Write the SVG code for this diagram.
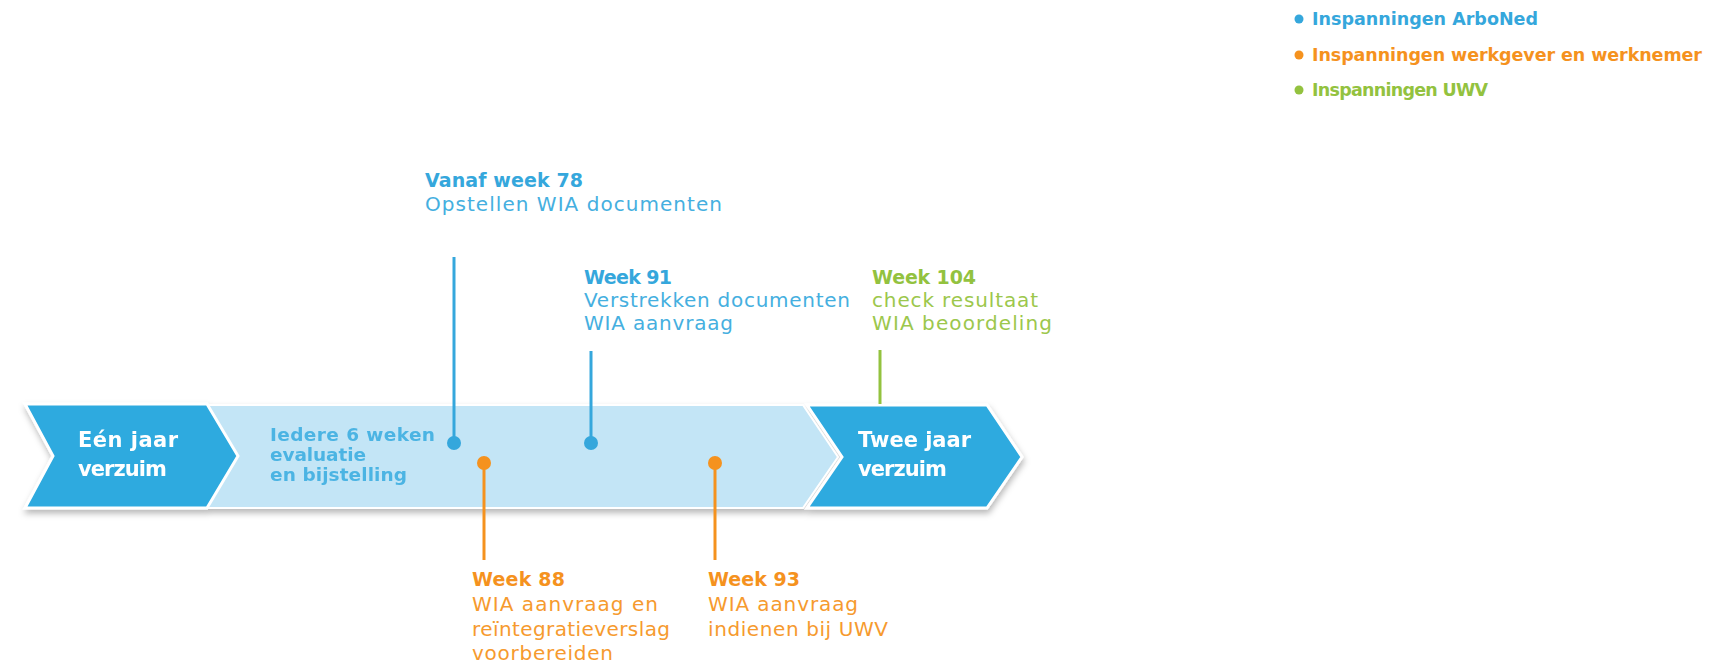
<svg xmlns="http://www.w3.org/2000/svg" width="1719" height="664" viewBox="0 0 1719 664">
  <defs>
    <style>
      text { font-family: "DejaVu Sans", "Liberation Sans", sans-serif; }
      .b { font-weight: bold; font-size: 19px; }
      .r { font-weight: normal; font-size: 20px; }
      .blue { fill: #35a7dc; }
      .orange { fill: #f5921e; }
      .green { fill: #93c23f; }
      .r.blue { fill: #45afe0; }
      .r.orange { fill: #f69a2e; }
      .r.green { fill: #9cc74c; }
      .legend { font-weight: bold; font-size: 17.5px; }
      .chev { fill: #2eaadf; stroke: #ffffff; stroke-width: 3; stroke-linejoin: miter; }
      .bar { fill: #c3e5f6; stroke: #ffffff; stroke-width: 2; }
      .white { fill: #ffffff; font-weight: bold; font-size: 21px; }
      .inner { fill: #4cb4e3; font-weight: bold; font-size: 18.5px; }
      .stem { stroke-width: 3; fill: none; }
    </style>
    <filter id="shadow" x="-5%" y="-20%" width="110%" height="150%">
      <feDropShadow dx="1" dy="4" stdDeviation="3" flood-color="#000000" flood-opacity="0.28"/>
    </filter>
  </defs>

  <rect width="1719" height="664" fill="#ffffff"/>

  <!-- legend -->
  <g id="legend">
    <circle cx="1299" cy="19" r="4.5" fill="#35a7dc"/>
    <text class="legend blue" x="1312" y="25" textLength="226" lengthAdjust="spacing">Inspanningen ArboNed</text>
    <circle cx="1299" cy="55" r="4.5" fill="#f5921e"/>
    <text class="legend orange" x="1312" y="61" textLength="390" lengthAdjust="spacing">Inspanningen werkgever en werknemer</text>
    <circle cx="1299" cy="90" r="4.5" fill="#93c23f"/>
    <text class="legend green" x="1312" y="96" textLength="176" lengthAdjust="spacing">Inspanningen UWV</text>
  </g>

  <!-- timeline band -->
  <g filter="url(#shadow)">
    <g id="bar">
      <polygon class="bar" points="200,405 803,405 838,457 803,508 200,508"/>
      <text class="inner" x="270" y="441" textLength="165" lengthAdjust="spacing">Iedere 6 weken</text>
      <text class="inner" x="270" y="461" textLength="96" lengthAdjust="spacing">evaluatie</text>
      <text class="inner" x="270" y="481" textLength="137" lengthAdjust="spacing">en bijstelling</text>
    </g>
    <g id="year-one">
      <polygon class="chev" points="25,404 207,404 238,456 207,508 25,508 53,456"/>
      <text class="white" x="78" y="447" textLength="100" lengthAdjust="spacing">Eén jaar</text>
      <text class="white" x="78" y="476" textLength="89" lengthAdjust="spacing">verzuim</text>
    </g>
    <g id="year-two">
      <polygon class="chev" points="807,405 987,405 1022,457 987,508 807,508 842,457"/>
      <text class="white" x="858" y="447" textLength="113" lengthAdjust="spacing">Twee jaar</text>
      <text class="white" x="858" y="476" textLength="89" lengthAdjust="spacing">verzuim</text>
    </g>
  </g>

  <!-- stems and markers -->
  <g id="connectors">
    <line class="stem" x1="454" y1="257" x2="454" y2="443" stroke="#35a7dc"/>
    <circle cx="454" cy="443" r="7" fill="#35a7dc"/>
    <line class="stem" x1="591" y1="351" x2="591" y2="443" stroke="#35a7dc"/>
    <circle cx="591" cy="443" r="7" fill="#35a7dc"/>
    <line class="stem" x1="880" y1="350" x2="880" y2="404" stroke="#93c23f"/>
    <line class="stem" x1="484" y1="463" x2="484" y2="560" stroke="#f5921e"/>
    <circle cx="484" cy="463" r="7" fill="#f5921e"/>
    <line class="stem" x1="715" y1="463" x2="715" y2="560" stroke="#f5921e"/>
    <circle cx="715" cy="463" r="7" fill="#f5921e"/>
  </g>

  <!-- milestone labels -->
  <g id="week-78">
    <text class="b blue" x="425" y="187" textLength="158" lengthAdjust="spacing">Vanaf week 78</text>
    <text class="r blue" x="425" y="211" textLength="297" lengthAdjust="spacing">Opstellen WIA documenten</text>
  </g>
  <g id="week-91">
    <text class="b blue" x="584" y="284" textLength="88" lengthAdjust="spacing">Week 91</text>
    <text class="r blue" x="584" y="307" textLength="266" lengthAdjust="spacing">Verstrekken documenten</text>
    <text class="r blue" x="584" y="330" textLength="149" lengthAdjust="spacing">WIA aanvraag</text>
  </g>
  <g id="week-104">
    <text class="b green" x="872" y="284" textLength="104" lengthAdjust="spacing">Week 104</text>
    <text class="r green" x="872" y="307" textLength="166" lengthAdjust="spacing">check resultaat</text>
    <text class="r green" x="872" y="330" textLength="180" lengthAdjust="spacing">WIA beoordeling</text>
  </g>
  <g id="week-88">
    <text class="b orange" x="472" y="586" textLength="93" lengthAdjust="spacing">Week 88</text>
    <text class="r orange" x="472" y="611" textLength="186" lengthAdjust="spacing">WIA aanvraag en</text>
    <text class="r orange" x="472" y="636" textLength="198" lengthAdjust="spacing">reïntegratieverslag</text>
    <text class="r orange" x="472" y="660" textLength="141" lengthAdjust="spacing">voorbereiden</text>
  </g>
  <g id="week-93">
    <text class="b orange" x="708" y="586" textLength="92" lengthAdjust="spacing">Week 93</text>
    <text class="r orange" x="708" y="611" textLength="150" lengthAdjust="spacing">WIA aanvraag</text>
    <text class="r orange" x="708" y="636" textLength="180" lengthAdjust="spacing">indienen bij UWV</text>
  </g>
</svg>
